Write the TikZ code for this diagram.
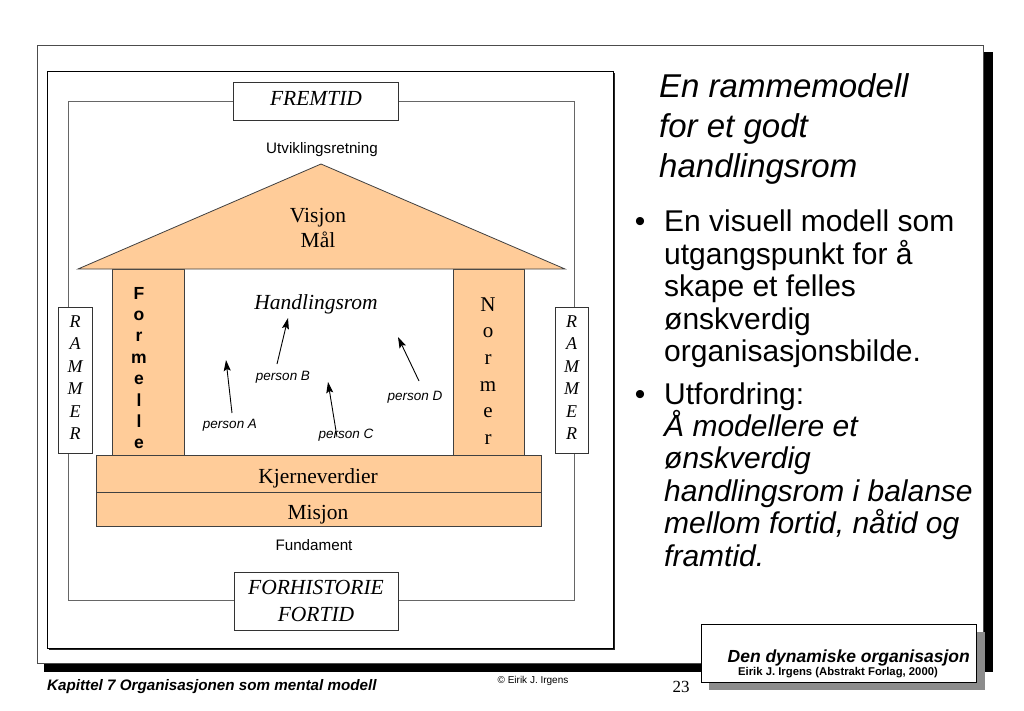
\documentclass[tikz,border=0pt]{standalone}
\usepackage{fontspec}
\setmainfont{Liberation Serif}
\setsansfont{Liberation Sans}
\usetikzlibrary{arrows.meta}
\definecolor{peach}{HTML}{FFCC99}
\newcommand{\fsz}[1]{\fontsize{#1}{#1}\selectfont}
\begin{document}
\begin{tikzpicture}[x=1pt,y=-1pt,
  txt/.style={inner sep=0pt, anchor=base},
  lefttxt/.style={inner sep=0pt, anchor=base west},
  peachbox/.style={fill=peach, draw=black!75, line width=0.8pt, inner sep=0pt},
  whitebox/.style={fill=white, draw=black!80, line width=0.8pt, inner sep=0pt},
  guide/.style={draw=black!60, line width=0.9pt},
  arr/.style={-{Stealth[length=11pt,width=7pt,inset=2pt]}, line width=0.9pt},
  srf/.style={font=\fsz{21.5}},
  srfit/.style={font=\itshape\fsz{21.5}},
  smallsans/.style={font=\sffamily\fsz{15.2}},
  persontxt/.style={font=\sffamily\itshape\fsz{13.5}},
  titletxt/.style={font=\sffamily\itshape\fsz{33}},
  bodytxt/.style={font=\sffamily\fsz{30}},
  bodyit/.style={font=\sffamily\itshape\fsz{30}}
]
\useasboundingbox (0,0) rectangle (1024,710);
\fill[white] (0,0) rectangle (1024,710);

% slide frame with shadow
\fill[black] (44,52) rectangle (993,672);
\draw[fill=white, draw=black!70, line width=0.8pt] (37,45) rectangle (983,663);

% diagram frame
\fill[black!85] (49,73) rectangle (615,650);
\draw[fill=white, line width=0.9pt] (47,71) rectangle (613,648);

% guide rectangle
\draw[guide] (68,101) rectangle (574,600);

% time boxes
\node[whitebox, minimum width=165pt, minimum height=38pt] (fremtid) at (315.5,101) {};
\node[txt, srfit] (fremtidT) at (316,105) {FREMTID};
\node[whitebox, minimum width=164pt, minimum height=58pt] (fortid) at (316,601) {};
\node[txt, srfit] (fortidA) at (316,594) {FORHISTORIE};
\node[txt, srfit] (fortidB) at (316,621) {FORTID};

% RAMMER boxes
\node[whitebox, minimum width=34pt, minimum height=146pt] (ramL) at (75,380) {};
\node[whitebox, minimum width=33pt, minimum height=146pt] (ramR) at (571.5,380) {};
\foreach \l [count=\i] in {R,A,M,M,E,R} {
  \node[txt, font=\itshape\fsz{18}] (ramL\i) at (75,{327+22.5*(\i-1)}) {\l};
  \node[txt, font=\itshape\fsz{18}] (ramR\i) at (571.5,{327+22.5*(\i-1)}) {\l};
}

% pillars
\node[peachbox, minimum width=72pt, minimum height=186pt] (lpillar) at (148,362) {};
\node[peachbox, minimum width=71pt, minimum height=186pt] (rpillar) at (488.5,362) {};
\foreach \l [count=\i] in {F,o,r,m,e,l,l,e}
  \node[txt, font=\sffamily\bfseries\fsz{17.5}] (form\i) at (139,{299+21.4*(\i-1)}) {\l};
\foreach \l [count=\i] in {N,o,r,m,e,r}
  \node[txt, font=\fsz{21}] (norm\i) at (488,{311+26.7*(\i-1)}) {\l};

% roof
\coordinate (roofL) at (78,269);
\coordinate (apex) at (321,164);
\coordinate (roofR) at (565,269);
\draw[peachbox] (roofL) -- (apex) -- (roofR) -- cycle;
\node[txt, srf] (visjon) at (318,222) {Visjon};
\node[txt, srf] (maal) at (318,247) {Mål};
\node[txt, smallsans] (utv) at (322,153) {Utviklingsretning};

% foundation
\node[peachbox, minimum width=445pt, minimum height=37pt] (kjerne) at (318.5,473.5) {};
\node[peachbox, minimum width=445pt, minimum height=34pt] (misjon) at (318.5,509) {};
\node[txt, srf] (kjerneT) at (318,483) {Kjerneverdier};
\node[txt, srf] (misjonT) at (318,519) {Misjon};
\node[txt, smallsans] (fund) at (314,550) {Fundament};

% handlingsrom
\node[txt, srfit] (hrom) at (316,309) {Handlingsrom};
\node[txt, persontxt] (pA) at (230,428) {person A};
\node[txt, persontxt] (pB) at (283,380) {person B};
\node[txt, persontxt] (pC) at (346,438) {person C};
\node[txt, persontxt] (pD) at (415,400) {person D};
\coordinate (aT) at (232,413); \coordinate (aH) at (226,360);
\coordinate (bT) at (277,364); \coordinate (bH) at (288,318);
\coordinate (cT) at (337,437); \coordinate (cH) at (328,382);
\coordinate (dT) at (419,381); \coordinate (dH) at (398,337);
\draw[arr] (aT) -- (aH);
\draw[arr] (bT) -- (bH);
\draw[arr] (cT) -- (cH);
\draw[arr] (dT) -- (dH);

% right column
\node[lefttxt, titletxt] (t1) at (659,97) {En rammemodell};
\node[lefttxt, titletxt] (t2) at (659,137) {for et godt};
\node[lefttxt, titletxt] (t3) at (659,177) {handlingsrom};
\node[txt, bodytxt] (b1) at (640,231) {•};
\node[lefttxt, bodytxt] (l1) at (664,231) {En visuell modell som};
\node[lefttxt, bodytxt] (l2) at (664,264) {utgangspunkt for å};
\node[lefttxt, bodytxt] (l3) at (664,296) {skape et felles};
\node[lefttxt, bodytxt] (l4) at (664,329) {ønskverdig};
\node[lefttxt, bodytxt] (l5) at (664,361) {organisasjonsbilde.};
\node[txt, bodytxt] (b2) at (640,404) {•};
\node[lefttxt, bodytxt] (m1) at (664,404) {Utfordring:};
\node[lefttxt, bodyit] (m2) at (664,436) {Å modellere et};
\node[lefttxt, bodyit] (m3) at (664,468) {ønskverdig};
\node[lefttxt, bodyit] (m4) at (664,501) {handlingsrom i balanse};
\node[lefttxt, bodyit] (m5) at (664,533) {mellom fortid, nåtid og};
\node[lefttxt, bodyit] (m6) at (664,566) {framtid.};

% footer
\node[lefttxt, font=\sffamily\bfseries\itshape\fsz{15.2}] (kap) at (47,690) {Kapittel 7 Organisasjonen som mental modell};
\node[txt, font=\sffamily\fsz{10}] (copy) at (533,683) {© Eirik J. Irgens};
\node[txt, font=\fsz{17}] (pageno) at (681,692) {23};

% book box
\fill[black!45] (709,632) rectangle (985,690);
\node[whitebox, draw=black, minimum width=275pt, minimum height=58pt] (book) at (838.5,653) {};
\node[inner sep=0pt, anchor=base east, font=\sffamily\bfseries\itshape\fsz{17.5}] (bookT) at (970,662) {Den dynamiske organisasjon};
\node[txt, font=\sffamily\bfseries\fsz{11.3}] (bookA) at (838,675) {Eirik J. Irgens (Abstrakt Forlag, 2000)};
\end{tikzpicture}
\end{document}
